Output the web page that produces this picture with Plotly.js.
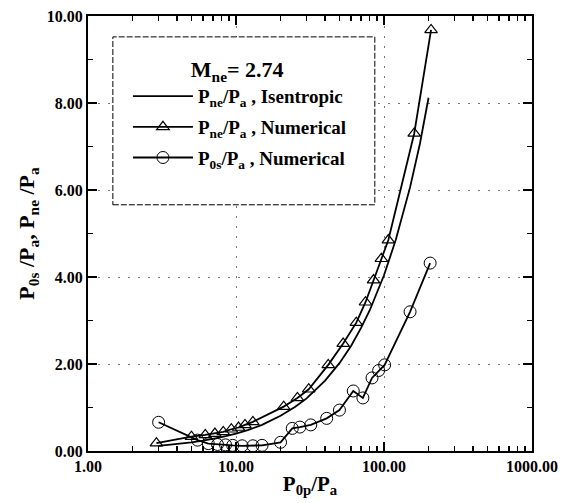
<!DOCTYPE html>
<html>
<head>
<meta charset="utf-8">
<script src="https://cdn.plot.ly/plotly-3.0.1.min.js"></script>
<style>html,body{margin:0;padding:0;background:#fff;}#chart{width:572px;height:503px;}</style>
</head>
<body>
<div id="chart"></div>
<script>
// Pne/Pa isentropic (line)
const isenX = [3, 4, 5, 6, 7, 8, 10, 12, 15, 20, 25, 30, 40, 50, 60, 70, 80, 100, 120, 150, 175, 200];
const isenY = [0.12, 0.16, 0.20, 0.24, 0.28, 0.32, 0.40, 0.48, 0.60, 0.81, 1.01, 1.21, 1.62, 2.02, 2.42, 2.83, 3.23, 4.04, 4.85, 6.06, 7.07, 8.12];

// Pne/Pa numerical (triangles)
const triX = [2.9, 5.0, 6.2, 7.2, 8.2, 9.3, 10.4, 11.5, 13, 21, 26, 31, 42, 53, 65, 75, 85, 96, 107, 160, 208];
const triY = [0.18, 0.33, 0.37, 0.40, 0.44, 0.50, 0.54, 0.60, 0.67, 1.02, 1.22, 1.42, 1.98, 2.47, 2.95, 3.42, 3.93, 4.42, 4.85, 7.30, 9.68];

// P0s/Pa numerical (circles)
const cirX = [3.0, 5.5, 6.5, 7.5, 8.5, 9.5, 11, 13, 15, 20, 24, 27, 32, 41, 50, 62, 72, 83, 92, 101, 150, 205];
const cirY = [0.66, 0.25, 0.17, 0.15, 0.14, 0.13, 0.12, 0.12, 0.13, 0.20, 0.52, 0.55, 0.60, 0.75, 0.94, 1.38, 1.22, 1.68, 1.85, 1.98, 3.20, 4.32];

const xTickVals = [1, 10, 100, 1000];
const xTickText = ['1.00', '10.00', '100.00', '1000.00'];
const yTickVals = [0, 2, 4, 6, 8, 10];
const yTickText = ['0.00', '2.00', '4.00', '6.00', '8.00', '10.00'];

const names = [
  'P<sub>ne</sub>/P<sub>a</sub> , Isentropic',
  'P<sub>ne</sub>/P<sub>a</sub> , Numerical',
  'P<sub>0s</sub>/P<sub>a</sub> , Numerical'
];

const xMinor = [];
[1, 10, 100].forEach(d => { for (let k = 2; k <= 9; k++) xMinor.push(k * d); });

const traces = [
  {x: isenX, y: isenY, mode: 'lines', name: names[0], legendgroup: 'a', line: {color: '#000', width: 1.8}},
  {x: triX, y: triY, mode: 'lines+markers', name: names[1], legendgroup: 'b', line: {color: '#000', width: 1.8},
   marker: {symbol: 'triangle-up-open', size: 11, color: '#000', line: {width: 1.2}}},
  {x: cirX, y: cirY, mode: 'lines+markers', name: names[2], legendgroup: 'c', line: {color: '#000', width: 1.8},
   marker: {symbol: 'circle-open', size: 12, color: '#000', line: {width: 1}}}
];

const font = {family: 'Liberation Serif, Times New Roman, serif', color: '#000'};

const layout = {
  width: 572, height: 503,
  margin: {l: 88, r: 40, t: 16, b: 52},
  paper_bgcolor: '#fff', plot_bgcolor: '#fff',
  font: Object.assign({}, font, {size: 15}),
  showlegend: true,
  shapes: [{
    type: 'rect', xref: 'paper', yref: 'paper',
    x0: 0.056, x1: 0.646, y0: 0.566, y1: 0.952,
    line: {color: '#000', width: 1, dash: '6px,2px'}, fillcolor: '#fff', layer: 'above'
  }],
  legend: {
    x: 0.09, y: 0.925, xanchor: 'left', yanchor: 'top',
    borderwidth: 0, bgcolor: 'rgba(0,0,0,0)',
    font: Object.assign({}, font, {size: 19, weight: 'bold'}),
    title: {text: '<b>M<sub>ne</sub>= 2.74</b> ', side: 'top center', font: Object.assign({}, font, {size: 22})},
    itemwidth: 60, tracegroupgap: 3
  },
  xaxis: {
    type: 'log', range: [0, 3],
    tickvals: xTickVals, ticktext: xTickText,
    ticks: 'inside', ticklen: 9, tickwidth: 2, tickcolor: '#000',
    showline: true, linewidth: 2, linecolor: '#000', mirror: 'ticks',
    showgrid: true, gridcolor: '#777', gridwidth: 1, griddash: '2px,8px',
    minor: {tickvals: xMinor, ticks: 'inside', ticklen: 5, tickwidth: 1.5, tickcolor: '#000', showgrid: false},
    tickfont: Object.assign({}, font, {size: 16, weight: 'bold'}),
    zeroline: false,
    title: {text: '<b>P<sub>0p</sub>/P<sub>a</sub></b>', font: Object.assign({}, font, {size: 21}), standoff: 2}
  },
  yaxis: {
    range: [0, 10],
    tickvals: yTickVals, ticktext: yTickText,
    ticks: 'inside', ticklen: 9, tickwidth: 2, tickcolor: '#000',
    showline: true, linewidth: 2, linecolor: '#000', mirror: 'ticks',
    showgrid: true, gridcolor: '#777', gridwidth: 1, griddash: '2px,8px',
    minor: {dtick: 1, ticks: 'inside', ticklen: 5, tickwidth: 1.5, tickcolor: '#000', showgrid: false},
    tickfont: Object.assign({}, font, {size: 16, weight: 'bold'}),
    zeroline: false,
    title: {text: '<b>P<sub>0s</sub> /P<sub>a</sub>, P<sub>ne</sub> /P<sub>a</sub></b>', font: Object.assign({}, font, {size: 22}), standoff: 6}
  }
};

Plotly.newPlot('chart', traces, layout, {displayModeBar: false, staticPlot: true});
</script>
</body>
</html>
